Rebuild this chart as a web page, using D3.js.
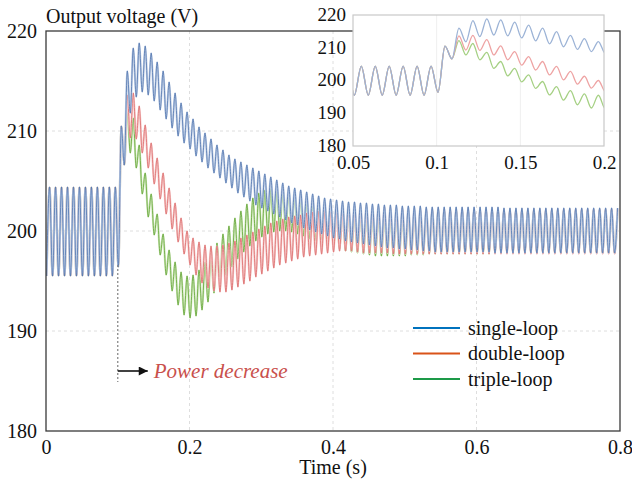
<!DOCTYPE html>
<html><head><meta charset="utf-8">
<script src="https://cdn.jsdelivr.net/npm/d3@7"></script>
<style>
body{margin:0;background:#fff}
svg{display:block}
</style>
</head><body>
<svg id="chart" width="632" height="480"></svg>
<script>
// ---------------- data ----------------
const xTicks = [0, 0.2, 0.4, 0.6, 0.8];
const yTicks = [180, 190, 200, 210, 220];
const insetXTicks = [0.05, 0.1, 0.15, 0.2];
const insetYTicks = [180, 190, 200, 210, 220];
const seriesNames = ["single-loop", "double-loop", "triple-loop"];
// extrema of the ripple, sampled every half period (1/240 s) starting at phase
const phase = 0.0008;
const halfPeriod = 1 / 240;
// shared by all three controllers up to t ≈ 0.109 s (troughs/peaks alternate)
const commonStart = [195.5,204.4,195.5,204.4,195.5,204.4,195.5,204.4,195.5,204.4,195.5,204.4,
                     195.5,204.4,195.5,204.4,195.5,204.4,195.5,204.4,195.5,204.4,195.5,204.4,
                     196.4,210.5,206.6];
// after the load step: peaks (t = 0.1133 + k/120) and troughs (t = 0.1175 + k/120)
const singlePeaks = [216.0,218.3,218.8,218.5,217.8,216.9,216.0,214.9,213.8,212.8,
  211.9,211.2,210.4,209.8,209.2,208.6,208.1,207.6,207.2,206.9,
  206.6,206.3,206.0,205.7,205.4,205.1,204.8,204.5,204.3,204.1,
  203.9,203.7,203.5,203.3,203.2,203.1,203.0,202.9,202.9,202.8,
  202.8,202.7,202.7,202.6,202.6,202.6,202.5,202.5,202.5,202.5,
  202.4,202.4,202.4,202.4,202.4,202.4,202.4,202.4,202.4,202.4,202.4,202.4,202.4,
  202.3,202.3,202.3,202.3,202.3,202.3,202.3,202.3,202.3,202.3,
  202.3,202.3,202.3,202.3,202.3,202.3,202.3,202.3,202.3,202.3];
const singleTroughs = [211.8,213.4,213.9,213.6,213.0,212.1,211.2,210.3,209.5,208.8,
  208.2,207.5,206.9,206.3,205.8,205.3,204.8,204.3,203.8,203.4,
  203.0,202.6,202.3,202.0,201.7,201.4,201.1,200.8,200.6,200.3,
  200.1,199.9,199.7,199.5,199.3,199.2,199.0,198.9,198.8,198.7,
  198.6,198.5,198.4,198.3,198.3,198.2,198.2,198.1,198.1,198.0,
  198.0,
  197.9,197.9,197.9,197.9,197.9,197.9,197.9,197.9,197.9,197.9,
  197.8,197.8,197.8,197.8,197.8,197.8,197.8,197.8,197.8,197.8,197.8,
  197.8,197.8,197.8,197.8,197.8,197.8,197.8,197.8,197.8,197.8];
const doublePeaks = [213.6,213.8,212.5,210.6,208.8,207.3,205.8,204.3,202.8,201.3,200.0,199.3,
  198.9,198.6,198.5,198.5,198.6,198.8,199.0,199.3,199.6,199.9,
  200.2,200.5,200.8,201.0,201.2,201.4,201.5,201.6,201.8,201.9,
  202.0,202.1,202.2,202.3,202.3,
  202.4,
  202.5,202.5,202.5,202.4,202.4,202.4,202.3,202.3,202.3,
  202.2,202.2,202.2,202.2,202.2,202.2,202.2,202.2,202.2,202.2,202.2,202.2,
  202.2,202.2,202.2,202.2,202.2,202.2,202.2,202.2,202.2,202.2,202.2,202.2,
  202.2,202.2,202.2,202.2,202.2,202.2,202.2,202.2,202.2,202.2,202.2,202.2];
const doubleTroughs = [209.3,209.2,207.8,206.3,204.7,203.2,201.7,200.2,198.9,197.7,196.6,
  195.6,194.8,194.3,194.0,193.9,193.9,194.1,194.4,194.7,195.0,
  195.4,195.7,196.0,196.3,196.6,196.8,197.0,197.2,197.4,197.5,197.6,197.7,
  197.8,197.9,198.0,198.0,198.0,197.9,
  197.8,197.8,197.8,197.8,197.8,197.7,197.7,197.7,197.7,197.7,197.7,
  197.7,197.7,197.7,197.7,197.7,197.7,197.7,197.7,197.7,197.7,197.7,
  197.7,197.7,197.7,197.7,197.7,197.7,197.7,197.7,197.7,197.7,197.7,
  197.7,197.7,197.7,197.7,197.7,197.7,197.7,197.7,197.7,197.7];
const triplePeaks = [212.2,211.3,208.6,205.8,203.7,201.7,199.7,198.1,196.9,195.9,
  195.5,195.6,196.1,196.9,197.8,198.8,199.7,200.5,201.3,202.0,
  202.7,203.3,203.8,204.1,204.3,204.4,204.3,204.1,203.8,203.5,
  203.2,202.9,202.7,202.5,202.3,202.1,202.0,201.9,201.8,201.8,
  201.7,201.7,201.7,201.7,201.7,201.8,201.8,201.9,201.9,202.0,202.0,
  202.1,202.1,202.1,202.1,202.1,202.1,202.1,202.1,202.1,202.1,
  202.1,202.1,202.1,202.1,202.1,202.1,202.1,202.1,202.1,202.1,202.1,
  202.1,202.1,202.1,202.1,202.1,202.1,202.1,202.1,202.1,202.1,202.1];
const tripleTroughs = [207.8,206.3,203.7,201.4,199.6,197.6,195.6,194.0,192.6,191.6,
  191.3,191.5,192.1,192.9,193.8,194.7,195.6,196.4,197.2,197.9,
  198.5,199.0,199.4,199.7,199.9,200.0,200.0,199.9,199.7,199.5,
  199.2,199.0,198.8,198.6,198.4,198.2,198.0,197.9,197.8,197.7,
  197.6,197.5,197.5,197.5,197.5,197.5,197.5,197.6,197.6,197.6,197.7,
  197.7,197.7,197.7,197.7,197.7,197.7,197.7,197.7,197.7,197.7,
  197.8,197.8,197.8,197.8,197.8,197.8,197.8,197.8,197.8,197.8,197.8,
  197.8,197.8,197.8,197.8,197.8,197.8,197.8,197.8,197.8,197.8];
const annotationTime = 0.1;
const annotationText = "Power decrease";

// ---------------- build ----------------
function build(peaks, troughs) {
  const v = commonStart.slice();
  for (let k = 0; k < peaks.length; k++) {
    v.push(peaks[k]);
    if (k < troughs.length) v.push(troughs[k]);
  }
  return v.map((y, j) => ({ t: phase + j * halfPeriod, v: y }));
}
const series = [
  { name: seriesNames[0], data: build(singlePeaks, singleTroughs), legend: "#0072BD", core: "#4f74ad", halo: "#c4d2e8", inset: "#9cb3d6" },
  { name: seriesNames[1], data: build(doublePeaks, doubleTroughs), legend: "#D95319", core: "#dc6a6a", halo: "#f6cccc", inset: "#eea3a3" },
  { name: seriesNames[2], data: build(triplePeaks, tripleTroughs), legend: "#1d9a48", core: "#62a535", halo: "#cfe7ba", inset: "#a5d083" }
];

const FONT = "'Liberation Serif', serif";
const svg = d3.select("#chart");
const m = { left: 46, right: 620, top: 31, bottom: 431 };
const x = d3.scaleLinear().domain([0, 0.8]).range([m.left, m.right]);
const y = d3.scaleLinear().domain([180, 220]).range([m.bottom, m.top]);

const defs = svg.append("defs");
defs.append("clipPath").attr("id", "clipMain")
  .append("rect").attr("x", m.left).attr("y", m.top).attr("width", m.right - m.left).attr("height", m.bottom - m.top);

// grid
const grid = svg.append("g").attr("stroke", "#d6d6d6").attr("stroke-width", 0.8).attr("stroke-dasharray", "3,3");
grid.selectAll("line.gx").data(xTicks.slice(1, -1)).join("line")
  .attr("x1", d => x(d)).attr("x2", d => x(d)).attr("y1", m.top).attr("y2", m.bottom);
grid.selectAll("line.gy").data(yTicks.slice(1, -1)).join("line")
  .attr("y1", d => y(d)).attr("y2", d => y(d)).attr("x1", m.left).attr("x2", m.right);

// main lines
const line = d3.line().x(d => x(d.t)).y(d => y(d.v)).curve(d3.curveMonotoneX);
const lines = svg.append("g").attr("clip-path", "url(#clipMain)");
const drawOrder = [2, 1, 0];
drawOrder.forEach(i => {
  const s = series[i];
  lines.append("path").datum(s.data).attr("d", line).attr("fill", "none")
    .attr("stroke", s.halo).attr("stroke-width", 2.2);
  lines.append("path").datum(s.data).attr("d", line).attr("fill", "none")
    .attr("stroke", s.core).attr("stroke-width", 0.8);
});

// axes
function styleAxis(a, size) {
  a.attr("font-family", null);
  a.select(".domain").remove();
  a.selectAll("text").attr("font-size", size).attr("fill", "#111").style("font-family", FONT);
}
const xAxis = svg.append("g").attr("transform", `translate(0,${m.bottom})`)
  .call(d3.axisBottom(x).tickValues(xTicks).tickSize(0).tickPadding(9).tickFormat(d3.format("~g")));
const yAxis = svg.append("g").attr("transform", `translate(${m.left},0)`)
  .call(d3.axisLeft(y).tickValues(yTicks).tickSize(0).tickPadding(9).tickFormat(d3.format("d")));
styleAxis(xAxis, "20px");
styleAxis(yAxis, "20px");

// frame
svg.append("rect").attr("x", m.left).attr("y", m.top).attr("width", m.right - m.left).attr("height", m.bottom - m.top)
  .attr("fill", "none").attr("stroke", "#3a3a3a").attr("stroke-width", 1.3);

// titles
svg.append("text").attr("x", m.left).attr("y", 23).attr("font-size", "20px").attr("fill", "#111")
  .style("font-family", FONT).text("Output voltage (V)");
svg.append("text").attr("x", (m.left + m.right) / 2).attr("y", 474).attr("text-anchor", "middle")
  .attr("font-size", "20px").attr("fill", "#111").style("font-family", FONT).text("Time (s)");

// annotation
const ax = x(annotationTime);
svg.append("line").attr("x1", ax).attr("x2", ax).attr("y1", y(196.6)).attr("y2", y(184.9))
  .attr("stroke", "#8a8a8a").attr("stroke-width", 1.3).attr("stroke-dasharray", "2,2");
defs.append("marker").attr("id", "arrow").attr("viewBox", "0 0 10 10")
  .attr("refX", 10).attr("refY", 5).attr("markerWidth", 11).attr("markerHeight", 9)
  .attr("markerUnits", "userSpaceOnUse").attr("orient", "auto")
  .append("path").attr("d", "M0,0 L10,5 L0,10 z").attr("fill", "#111");
svg.append("line").attr("x1", ax).attr("x2", ax + 30).attr("y1", y(186)).attr("y2", y(186))
  .attr("stroke", "#111").attr("stroke-width", 1.6).attr("marker-end", "url(#arrow)");
svg.append("text").attr("x", ax + 36).attr("y", y(186) + 6.5).attr("font-size", "21px")
  .attr("font-style", "italic").attr("fill", "#c9504c").style("font-family", FONT).text(annotationText);

// legend
const lg = svg.append("g");
series.forEach((s, i) => {
  const ly = 328 + i * 25.5;
  lg.append("line").attr("x1", 413).attr("x2", 460).attr("y1", ly).attr("y2", ly)
    .attr("stroke", s.legend).attr("stroke-width", 2);
  lg.append("text").attr("x", 468).attr("y", ly).attr("dy", "0.33em").attr("font-size", "20px")
    .attr("fill", "#111").style("font-family", FONT).text(s.name);
});

// ---------------- inset ----------------
const ib = { left: 353, right: 604, top: 15, bottom: 146 };
const ix = d3.scaleLinear().domain([0.05, 0.2]).range([ib.left, ib.right]);
const iy = d3.scaleLinear().domain([180, 220]).range([ib.bottom, ib.top]);
defs.append("clipPath").attr("id", "clipInset")
  .append("rect").attr("x", ib.left).attr("y", ib.top).attr("width", ib.right - ib.left).attr("height", ib.bottom - ib.top);
const inset = svg.append("g");
inset.append("rect").attr("x", ib.left).attr("y", ib.top).attr("width", ib.right - ib.left).attr("height", ib.bottom - ib.top)
  .attr("fill", "#fff");
inset.selectAll("line.ig").data(insetXTicks.slice(1, -1)).join("line")
  .attr("x1", d => ix(d)).attr("x2", d => ix(d)).attr("y1", ib.top).attr("y2", ib.bottom)
  .attr("stroke", "#efefef").attr("stroke-width", 1);
const iline = d3.line().x(d => ix(d.t)).y(d => iy(d.v)).curve(d3.curveMonotoneX);
const ilines = inset.append("g").attr("clip-path", "url(#clipInset)");
drawOrder.forEach(i => {
  const s = series[i];
  ilines.append("path").datum(s.data.filter(d => d.t > 0.04 && d.t < 0.21)).attr("d", iline)
    .attr("fill", "none").attr("stroke", s.inset).attr("stroke-width", 1.3);
});
inset.append("rect").attr("x", ib.left).attr("y", ib.top).attr("width", ib.right - ib.left).attr("height", ib.bottom - ib.top)
  .attr("fill", "none").attr("stroke", "#c9c9c9").attr("stroke-width", 1.2);
const ixAxis = inset.append("g").attr("transform", `translate(0,${ib.bottom})`)
  .call(d3.axisBottom(ix).tickValues(insetXTicks).tickSize(0).tickPadding(10).tickFormat(d3.format("~g")));
const iyAxis = inset.append("g").attr("transform", `translate(${ib.left},0)`)
  .call(d3.axisLeft(iy).tickValues(insetYTicks).tickSize(0).tickPadding(7).tickFormat(d3.format("d")));
styleAxis(ixAxis, "19px");
styleAxis(iyAxis, "19px");
iyAxis.selectAll("text").attr("dy", "0.28em");
</script>
</body></html>
